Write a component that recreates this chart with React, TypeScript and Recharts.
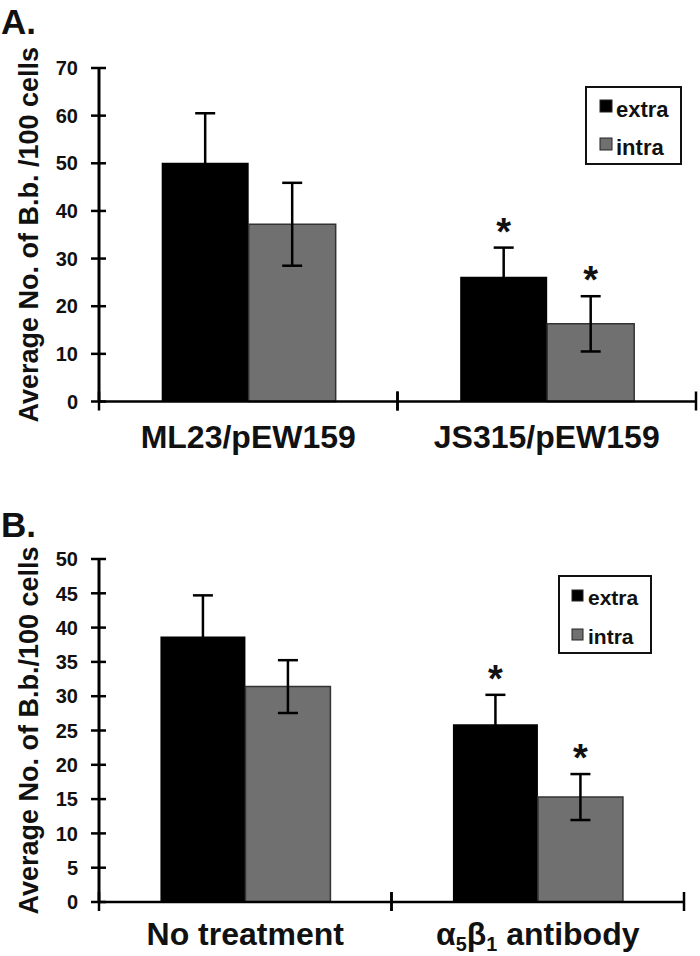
import { Bar, BarChart, ErrorBar, LabelList, Legend, XAxis, YAxis } from "recharts";

const FONT = "'Liberation Sans', Arial, Helvetica, sans-serif";
const GRAY = "#707070";
const FRAME = "#9c9c9c";

// panel A
const groupsA = ["ML23/pEW159", "JS315/pEW159"];
const extraA = [50.1, 26.2];
const extraErrA = [10.4, 6.1];
const intraA = [37.2, 16.3];
const intraErrA = [8.7, 5.8];
const starA = ["", "*"];
const ticksA = [0, 10, 20, 30, 40, 50, 60, 70];

// panel B
const groupsB = ["No treatment", "α5β1 antibody"];
const extraB = [38.7, 25.9];
const extraErrB = [6.0, 4.3];
const intraB = [31.4, 15.3];
const intraErrB = [3.85, 3.35];
const starB = ["", "*"];
const ticksB = [0, 5, 10, 15, 20, 25, 30, 35, 40, 45, 50];

const seriesNames = ["extra", "intra"];
const seriesColors = ["#000", GRAY];

type Row = {
  group: string;
  extra: number;
  extraErr: number;
  intra: number;
  intraErr: number;
  star: string;
};

function buildRows(
  groups: string[],
  extra: number[],
  extraErr: number[],
  intra: number[],
  intraErr: number[],
  star: string[]
): Row[] {
  return groups.map((g, i) => ({
    group: g,
    extra: extra[i],
    extraErr: extraErr[i],
    intra: intra[i],
    intraErr: intraErr[i],
    star: star[i],
  }));
}

const rowsA = buildRows(groupsA, extraA, extraErrA, intraA, intraErrA, starA);
const rowsB = buildRows(groupsB, extraB, extraErrB, intraB, intraErrB, starB);

// greek letter followed by a digit -> subscript digit
function richText(s: string, fs: number) {
  const segs: { t: string; sub: boolean }[] = [];
  for (let i = 0; i < s.length; i++) {
    const c = s[i];
    const sub = /\d/.test(c) && i > 0 && /[α-ω]/.test(s[i - 1]);
    const last = segs[segs.length - 1];
    if (last && last.sub === sub) last.t += c;
    else segs.push({ t: c, sub });
  }
  let shift = 0;
  return segs.map((sg, i) => {
    const target = sg.sub ? fs * 0.2 : 0;
    const dy = target - shift;
    shift = target;
    return (
      <tspan key={i} dy={dy} fontSize={sg.sub ? fs * 0.62 : fs}>
        {sg.t}
      </tspan>
    );
  });
}

const makeXTick = (fs: number, baseline: number) => (props: any) => {
  const { x, y, payload } = props;
  const half =
    payload?.offset ?? (props.width && props.visibleTicksCount ? props.width / props.visibleTicksCount / 2 : 0);
  return (
    <g>
      <line x1={x - half} x2={x - half} y1={y - 10} y2={y + 9} stroke="#000" strokeWidth={2.5} />
      <line x1={x + half} x2={x + half} y1={y - 10} y2={y + 9} stroke="#000" strokeWidth={2.5} />
      <text x={x} y={y + baseline} textAnchor="middle" fontSize={fs} fontWeight="bold" fontFamily={FONT} fill="#111">
        {richText(String(payload.value), fs)}
      </text>
    </g>
  );
};

function YTick(props: any) {
  const { x, y, payload } = props;
  return (
    <g>
      <line x1={x - 8} x2={x + 7} y1={y} y2={y} stroke="#000" strokeWidth={2.5} />
      <text x={x - 21} y={y} dy="0.36em" textAnchor="end" fontSize={20} fontWeight="bold" fontFamily={FONT} fill="#111">
        {payload.value}
      </text>
    </g>
  );
}

const yTitle = (text: string) => (props: any) => {
  const vb = props.viewBox ?? {};
  const cx = 29;
  const cy = vb.y + vb.height / 2;
  return (
    <text
      x={cx}
      y={cy}
      transform={`rotate(-90 ${cx} ${cy})`}
      textAnchor="middle"
      dominantBaseline="central"
      fontSize={27}
      fontWeight="bold"
      fontFamily={FONT}
      fill="#111"
    >
      {text}
    </text>
  );
};

const starContent = (vals: number[], errs: number[]) => (props: any) => {
  const { value, index } = props;
  if (!value) return null;
  const vb = props.viewBox ?? props;
  const h = Math.abs(vb.height);
  const top = Math.min(vb.y, vb.y + vb.height);
  const perUnit = h / vals[index];
  const errTop = top - errs[index] * perUnit;
  return (
    <text
      x={vb.x + vb.width / 2}
      y={errTop - 3}
      textAnchor="middle"
      fontSize={38}
      fontWeight="bold"
      fontFamily={FONT}
      fill="#111"
    >
      {value}
    </text>
  );
};

function LegendBox({ w, h, sq, sx, sy, tx, ty, step, fs }: any) {
  return (
    <svg width={w} height={h} style={{ display: "block" }}>
      <rect x={1} y={1} width={w - 2} height={h - 2} fill="#fff" stroke="#111" strokeWidth={2} />
      {seriesNames.map((n, i) => (
        <g key={n}>
          <rect x={sx} y={sy + i * step} width={sq} height={sq} fill={seriesColors[i]} stroke="#222" strokeWidth={1} />
          <text x={tx} y={ty + i * step} fontSize={fs} fontWeight="bold" fontFamily={FONT} fill="#111">
            {n}
          </text>
        </g>
      ))}
    </svg>
  );
}

function Panel({
  rows,
  ticks,
  max,
  extra,
  extraErr,
  intra,
  intraErr,
  height,
  margin,
  xHeight,
  xFont,
  xBase,
  title,
  legendPos,
  legendProps,
}: any) {
  return (
    <BarChart width={700} height={height} data={rows} margin={margin} barCategoryGap="21%" barGap={0}>
      <XAxis
        xAxisId="bottom"
        dataKey="group"
        height={xHeight}
        interval={0}
        tickLine={false}
        tickSize={0}
        tickMargin={0}
        axisLine={{ stroke: "#000", strokeWidth: 2.5 }}
        tick={makeXTick(xFont, xBase)}
      />
      <XAxis
        xAxisId="top"
        orientation="top"
        dataKey="group"
        height={0}
        tick={false}
        tickLine={false}
        axisLine={{ stroke: FRAME, strokeWidth: 2 }}
      />
      <YAxis
        yAxisId="left"
        width={99}
        domain={[0, max]}
        ticks={ticks}
        interval={0}
        tickLine={false}
        tickSize={0}
        tickMargin={0}
        axisLine={{ stroke: "#000", strokeWidth: 3 }}
        tick={YTick}
        label={yTitle(title)}
      />
      <YAxis
        yAxisId="right"
        orientation="right"
        width={0}
        domain={[0, max]}
        tick={false}
        tickLine={false}
        axisLine={{ stroke: FRAME, strokeWidth: 2 }}
      />
      <Legend
        layout="vertical"
        verticalAlign="middle"
        align="center"
        wrapperStyle={{ ...legendPos, width: legendProps.w }}
        content={() => <LegendBox {...legendProps} />}
      />
      <Bar dataKey="extra" name="extra" xAxisId="bottom" yAxisId="left" fill="#000" isAnimationActive={false}>
        <ErrorBar dataKey="extraErr" direction="y" width={10} stroke="#000" strokeWidth={2.5} isAnimationActive={false} />
        <LabelList dataKey="star" content={starContent(extra, extraErr)} />
      </Bar>
      <Bar
        dataKey="intra"
        name="intra"
        xAxisId="bottom"
        yAxisId="left"
        fill={GRAY}
        stroke="#333"
        strokeWidth={1.5}
        isAnimationActive={false}
      >
        <ErrorBar dataKey="intraErr" direction="y" width={10} stroke="#000" strokeWidth={2.5} isAnimationActive={false} />
        <LabelList dataKey="star" content={starContent(intra, intraErr)} />
      </Bar>
    </BarChart>
  );
}

function PanelTag({ text }: { text: string }) {
  return (
    <svg width={60} height={50} style={{ position: "absolute", left: 0, top: 0 }}>
      <text x={1} y={34} fontSize={35} fontWeight="bold" fontFamily={FONT} fill="#111">
        {text}
      </text>
    </svg>
  );
}

export default function App() {
  return (
    <div style={{ position: "absolute", left: 0, top: 0, width: 700, height: 956, background: "#fff" }}>
      <div style={{ position: "absolute", left: 0, top: 0 }}>
        <Panel
          rows={rowsA}
          ticks={ticksA}
          max={70}
          extra={extraA}
          extraErr={extraErrA}
          intra={intraA}
          intraErr={intraErrA}
          height={470}
          margin={{ top: 68, right: 4, bottom: 0, left: 0 }}
          xHeight={68.5}
          xFont={32}
          xBase={46.5}
          title="Average No. of B.b. /100 cells"
          legendPos={{ left: 585, top: 86 }}
          legendProps={{ w: 97, h: 79, sq: 12, sx: 15, sy: 14, tx: 31, ty: 31, step: 38, fs: 22 }}
        />
        <PanelTag text="A." />
      </div>
      <div style={{ position: "absolute", left: 0, top: 470 }}>
        <Panel
          rows={rowsB}
          ticks={ticksB}
          max={50}
          extra={extraB}
          extraErr={extraErrB}
          intra={intraB}
          intraErr={intraErrB}
          height={486}
          margin={{ top: 89, right: 16, bottom: 0, left: 0 }}
          xHeight={54}
          xFont={32}
          xBase={43}
          title="Average No. of B.b./100 cells"
          legendPos={{ left: 558, top: 105 }}
          legendProps={{ w: 94, h: 79, sq: 11, sx: 14, sy: 15, tx: 30, ty: 30, step: 39, fs: 21 }}
        />
        <div style={{ position: "absolute", left: 0, top: 33 }}>
          <PanelTag text="B." />
        </div>
      </div>
    </div>
  );
}
